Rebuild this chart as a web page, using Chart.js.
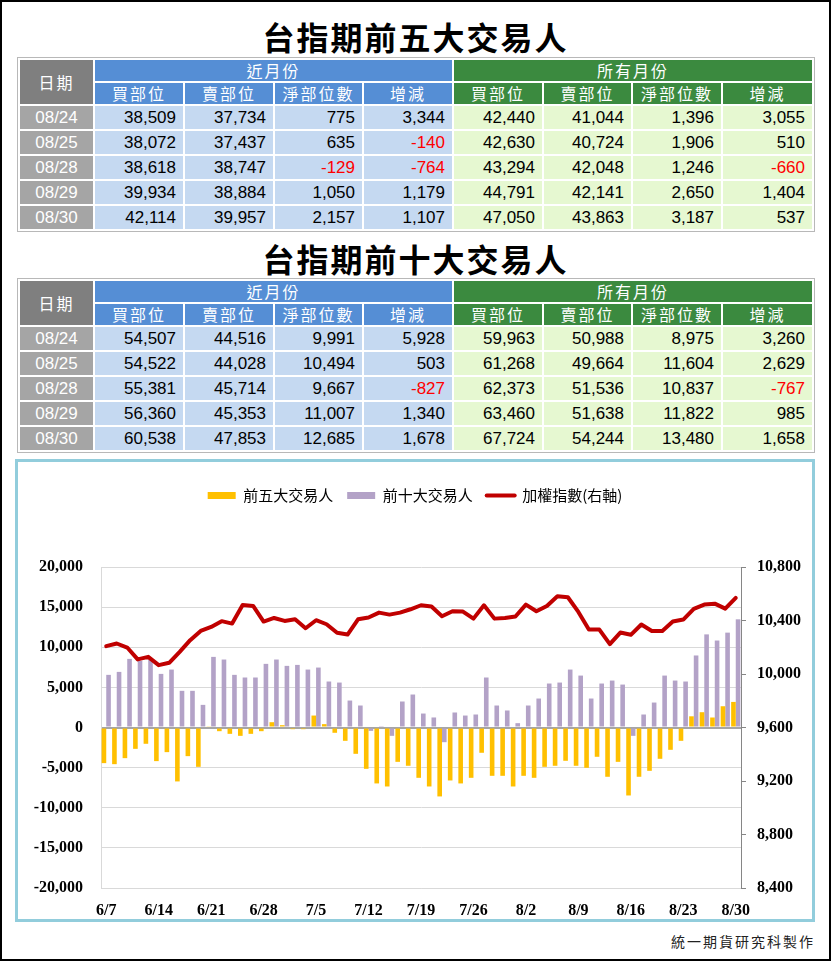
<!DOCTYPE html>
<html>
<head>
<meta charset="utf-8">
<script src="https://cdn.jsdelivr.net/npm/chart.js@4.4.0/dist/chart.umd.min.js"></script>
<style>
body { margin: 0; background: #fff; }
#page { position: relative; width: 833px; height: 963px; overflow: hidden; font-family: "Noto Sans CJK TC", sans-serif; }
#frame { position: absolute; left: 0; top: 0; width: 831px; height: 961px; border: 2px solid #000; box-sizing: border-box; }
.title { position: absolute; left: 0; width: 831px; text-align: center; font-size: 32px; font-weight: bold; letter-spacing: 2px; line-height: 40px; color: #000; }
.tbl { position: absolute; left: 17px; border: 1px solid #b8b8b8; }
table { border-collapse: collapse; table-layout: fixed; width: 794px; }
td { border: 2px solid #fff; padding: 0; overflow: hidden; white-space: nowrap; }
td.h { height: 21px; color: #fff; text-align: center; font-size: 16px; letter-spacing: 2px; line-height: 21px; }
td.d { height: 23px; font-family: "Liberation Sans", Arial, sans-serif; font-size: 17px; line-height: 23px; }
td.dt { background: #a5a5a5; color: #fff; text-align: center; }
td.hd { background: #7f7f7f; }
td.hn { background: #558ed5; }
td.ha { background: #3b8a3f; }
td.n { background: #c5d9f1; text-align: right; padding-right: 7px; }
td.a { background: #e6f8d1; text-align: right; padding-right: 7px; }
td.neg { color: #ff0000; }
#box { position: absolute; left: 15px; top: 459px; width: 800px; height: 463px; border: 3px solid #92cddc; box-sizing: border-box; }
#c { position: absolute; left: 0; top: 0; }
#foot { position: absolute; left: 0; width: 815px; top: 931px; text-align: right; font-size: 14px; letter-spacing: 2px; color: #222; }
</style>
</head>
<body>
<div id="page">
  <div id="frame"></div>
  <div class="title" style="top:16px">台指期前五大交易人</div>
  <div class="tbl" style="top:57px" id="t1"></div>
  <div class="title" style="top:238px">台指期前十大交易人</div>
  <div class="tbl" style="top:278px" id="t2"></div>
  <div id="box"><canvas id="c" width="794" height="457"></canvas></div>
  <div id="foot">統一期貨研究科製作</div>
</div>
<script>
// tables
var tableDates = ['08/24', '08/25', '08/28', '08/29', '08/30'];
var top5Near = [[38509, 37734, 775, 3344], [38072, 37437, 635, -140], [38618, 38747, -129, -764], [39934, 38884, 1050, 1179], [42114, 39957, 2157, 1107]];
var top5All = [[42440, 41044, 1396, 3055], [42630, 40724, 1906, 510], [43294, 42048, 1246, -660], [44791, 42141, 2650, 1404], [47050, 43863, 3187, 537]];
var top10Near = [[54507, 44516, 9991, 5928], [54522, 44028, 10494, 503], [55381, 45714, 9667, -827], [56360, 45353, 11007, 1340], [60538, 47853, 12685, 1678]];
var top10All = [[59963, 50988, 8975, 3260], [61268, 49664, 11604, 2629], [62373, 51536, 10837, -767], [63460, 51638, 11822, 985], [67724, 54244, 13480, 1658]];
var colHeads = ['買部位', '賣部位', '淨部位數', '增減'];

// chart
var dates = ['6/7', '6/8', '6/9', '6/12', '6/13', '6/14', '6/15', '6/16', '6/19', '6/20',
  '6/21', '6/22', '6/23', '6/26', '6/27', '6/28', '6/29', '6/30', '7/3', '7/4',
  '7/5', '7/6', '7/7', '7/10', '7/11', '7/12', '7/13', '7/14', '7/17', '7/18',
  '7/19', '7/20', '7/21', '7/24', '7/25', '7/26', '7/27', '7/28', '7/31', '8/1',
  '8/2', '8/3', '8/4', '8/7', '8/8', '8/9', '8/10', '8/11', '8/14', '8/15',
  '8/16', '8/17', '8/18', '8/21', '8/22', '8/23', '8/24', '8/25', '8/28', '8/29', '8/30'];
var top5 = [-4440, -4570, -3820, -2660, -2030, -4190, -3070, -6720, -3570, -4900,
  150, -460, -790, -1040, -790, -460, 660, 290, -210, -210,
  1490, 420, -660, -1660, -3280, -5150, -6970, -7350, -4280, -4770,
  -6270, -7350, -8590, -6600, -6970, -6270, -3150, -6020, -6020, -7350,
  -6020, -6270, -4900, -4770, -4150, -4770, -5020, -3650, -6140, -4280,
  -8470, -6140, -5400, -3900, -2780, -1660, 1396, 1906, 1246, 2650, 3187];
var top10 = [6560, 6930, 8550, 8300, 8510, 6680, 7220, 4570, 4570, 2820,
  8800, 8470, 6560, 6230, 6230, 7930, 8470, 7680, 7800, 7220,
  7470, 5730, 5600, 3360, 2740, -420, 170, -1040, 3240, 4110,
  1740, 1250, -1830, 1870, 1490, 1620, 6230, 2740, 2120, 540,
  2740, 3610, 5480, 5600, 7220, 6470, 3610, 5480, 5850, 5350,
  -1040, 1620, 3110, 6470, 5850, 5730, 8975, 11604, 10837, 11822, 13480];
var taiex = [10208, 10228, 10198, 10109, 10128, 10066, 10084, 10166, 10253, 10322,
  10352, 10395, 10377, 10516, 10509, 10392, 10419, 10397, 10409, 10342,
  10402, 10372, 10308, 10295, 10409, 10422, 10459, 10444, 10459, 10484,
  10514, 10504, 10432, 10469, 10467, 10414, 10514, 10414, 10419, 10430,
  10519, 10469, 10509, 10581, 10574, 10464, 10332, 10332, 10223, 10310,
  10293, 10370, 10322, 10322, 10392, 10407, 10487, 10519, 10526, 10489, 10569];

function fmt(v) { return v.toLocaleString('en-US'); }

function buildTable(id, near, all) {
  var h = '<table><colgroup><col style="width:75px">';
  var w = [90, 90, 89, 90, 90, 89, 90, 91];
  for (var i = 0; i < w.length; i++) h += '<col style="width:' + w[i] + 'px">';
  h += '</colgroup>';
  h += '<tr><td class="h hd" rowspan="2">日期</td><td class="h hn" colspan="4">近月份</td><td class="h ha" colspan="4">所有月份</td></tr><tr>';
  for (i = 0; i < 4; i++) h += '<td class="h hn">' + colHeads[i] + '</td>';
  for (i = 0; i < 4; i++) h += '<td class="h ha">' + colHeads[i] + '</td>';
  h += '</tr>';
  for (var r = 0; r < tableDates.length; r++) {
    h += '<tr><td class="d dt">' + tableDates[r] + '</td>';
    for (i = 0; i < 4; i++) h += '<td class="d n' + (near[r][i] < 0 ? ' neg' : '') + '">' + fmt(near[r][i]) + '</td>';
    for (i = 0; i < 4; i++) h += '<td class="d a' + (all[r][i] < 0 ? ' neg' : '') + '">' + fmt(all[r][i]) + '</td>';
    h += '</tr>';
  }
  h += '</table>';
  document.getElementById(id).innerHTML = h;
}
buildTable('t1', top5Near, top5All);
buildTable('t2', top10Near, top10All);

var legendGap = {
  id: 'legendGap',
  beforeInit: function(chart) {
    var fit = chart.legend.fit;
    chart.legend.fit = function() {
      fit.bind(chart.legend)();
      this.height = 93;
    };
  }
};

var axisFont = { family: '"Liberation Serif", "Times New Roman", serif', size: 16, weight: 'bold' };

var chart = new Chart(document.getElementById('c'), {
  type: 'bar',
  data: {
    labels: dates,
    datasets: [
      { label: '前五大交易人', data: top5, backgroundColor: '#ffc000', borderColor: '#ffc000', yAxisID: 'y', order: 1,
        categoryPercentage: 0.88, barPercentage: 1.0 },
      { label: '前十大交易人', data: top10, backgroundColor: '#b3a2c7', borderColor: '#b3a2c7', yAxisID: 'y', order: 1,
        categoryPercentage: 0.88, barPercentage: 1.0 },
      { type: 'line', label: '加權指數(右軸)', data: taiex, borderColor: '#c00000', backgroundColor: '#c00000',
        borderWidth: 4, pointRadius: 0, tension: 0, yAxisID: 'y1', order: 0,
        borderJoinStyle: 'round', borderCapStyle: 'round' }
    ]
  },
  options: {
    responsive: false,
    animation: false,
    devicePixelRatio: 1,
    layout: { padding: { top: 12, left: 0, right: 0, bottom: 0 } },
    plugins: {
      tooltip: { enabled: false },
      legend: {
        position: 'top',
        labels: {
          color: '#000',
          font: { family: '"Noto Sans CJK TC", sans-serif', size: 15 },
          usePointStyle: true,
          pointStyleWidth: 28,
          boxHeight: 7,
          padding: 14,
          sort: function(a, b) { return a.datasetIndex - b.datasetIndex; },
          generateLabels: function(chart) {
            var items = Chart.defaults.plugins.legend.labels.generateLabels(chart);
            items.forEach(function(it) {
              var ds = chart.data.datasets[it.datasetIndex];
              var isLine = ds.type === 'line';
              it.pointStyle = isLine ? 'line' : 'rect';
              it.lineWidth = isLine ? 4 : 0;
              it.lineCap = 'round';
              it.fillStyle = ds.backgroundColor;
              it.strokeStyle = ds.borderColor;
            });
            return items;
          }
        }
      }
    },
    scales: {
      x: {
        offset: true,
        grid: { display: false },
        border: { color: '#d9d9d9' },
        ticks: {
          autoSkip: false, maxRotation: 0, color: '#000', font: axisFont, padding: 5,
          callback: function(v, i) { return i % 5 === 0 ? this.getLabelForValue(v) : ''; }
        },
        afterFit: function(s) { s.height = 31; }
      },
      y: {
        position: 'left',
        min: -20000, max: 20000,
        grid: {
          drawTicks: false,
          color: function(ctx) { return ctx.tick && ctx.tick.value === 0 ? '#a6a6a6' : '#d9d9d9'; },
          lineWidth: function(ctx) { return ctx.tick && ctx.tick.value === 0 ? 2 : 1; }
        },
        border: { color: '#d9d9d9' },
        ticks: { stepSize: 5000, color: '#000', font: axisFont, padding: 18, callback: function(v) { return fmt(v); } },
        afterFit: function(s) { s.width = 83; }
      },
      y1: {
        position: 'right',
        min: 8400, max: 10800,
        grid: { drawOnChartArea: false, tickLength: 5, color: '#868686' },
        border: { color: '#868686' },
        ticks: { stepSize: 400, color: '#000', font: axisFont, padding: 11, callback: function(v) { return fmt(v); } },
        afterFit: function(s) { s.width = 71; }
      }
    }
  },
  plugins: [legendGap]
});
</script>
</body>
</html>
